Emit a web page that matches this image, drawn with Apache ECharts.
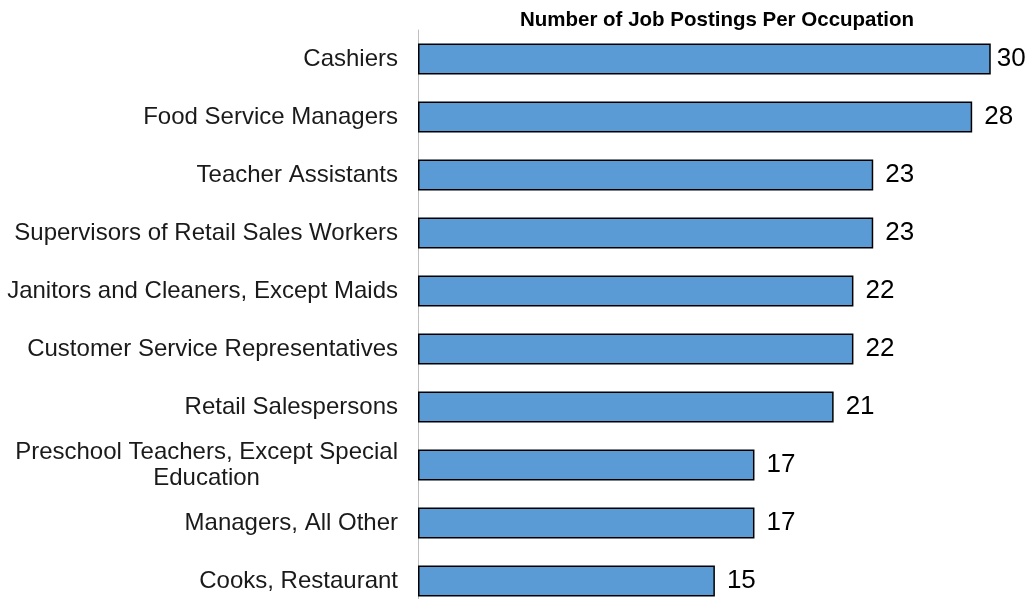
<!DOCTYPE html>
<html>
<head>
<meta charset="utf-8">
<style>
  html, body { margin: 0; padding: 0; background: #fff; }
  #chart { width: 1027px; height: 599px; }
</style>
<script src="https://cdn.jsdelivr.net/npm/echarts@6/dist/echarts.min.js"></script>
</head>
<body>
<div id="chart"></div>
<script>
const occupations = [
  'Cashiers',
  'Food Service Managers',
  'Teacher Assistants',
  'Supervisors of Retail Sales Workers',
  'Janitors and Cleaners, Except Maids',
  'Customer Service Representatives',
  'Retail Salespersons',
  'Preschool Teachers, Except Special\nEducation',
  'Managers, All Other',
  'Cooks, Restaurant'
]
const postings = [30, 28, 23, 23, 22, 22, 21, 17, 17, 15]
const titleText = 'Number of Job Postings Per Occupation'

const font = '"Liberation Sans", Arial, sans-serif'
const chart = echarts.init(document.getElementById('chart'))

// 第一根柱子被截断，标签靠得更近
const barData = postings.map((v, i) => i === 0 ? {value: v, label: {distance: 6}} : v)

const option = {
  animation: false,
  title: {
    text: titleText,
    left: 712,
    top: 5,
    textAlign: 'center',
    textStyle: {
      fontFamily: font,
      fontSize: 20.5,
      fontWeight: 'bold',
      color: '#000'
    }
  },
  grid: {
    left: 418,
    top: 30,
    width: 572,
    height: 580,
    containLabel: false,
    outerBoundsMode: 'none'
  },
  xAxis: {
    type: 'value',
    min: 0,
    max: 28.9, // 30 的柱子被截断
    show: false
  },
  yAxis: {
    type: 'category',
    data: occupations,
    inverse: true,
    axisLine: {
      show: true,
      lineStyle: {color: '#BFBFBF', width: 1}
    },
    axisTick: {show: false},
    axisLabel: {
      margin: 20,
      fontFamily: font,
      fontSize: 24,
      color: '#1a1a1a',
      formatter: function (val) {
        // 两行标签：每行居中
        if (val.indexOf('\n') >= 0) {
          return val.split('\n').map(s => '{c|' + s + '}').join('\n')
        }
        return val
      },
      rich: {
        c: {
          align: 'center',
          fontFamily: font,
          fontSize: 24,
          color: '#1a1a1a',
          lineHeight: 26
        }
      }
    }
  },
  series: [
    {
      type: 'bar',
      data: barData,
      barWidth: 31,
      itemStyle: {
        color: '#5B9BD5',
        borderColor: '#000',
        borderWidth: 1.5
      },
      label: {
        show: true,
        position: 'right',
        distance: 12,
        fontFamily: font,
        fontSize: 26,
        color: '#000'
      }
    }
  ]
}
chart.setOption(option)
</script>
</body>
</html>
